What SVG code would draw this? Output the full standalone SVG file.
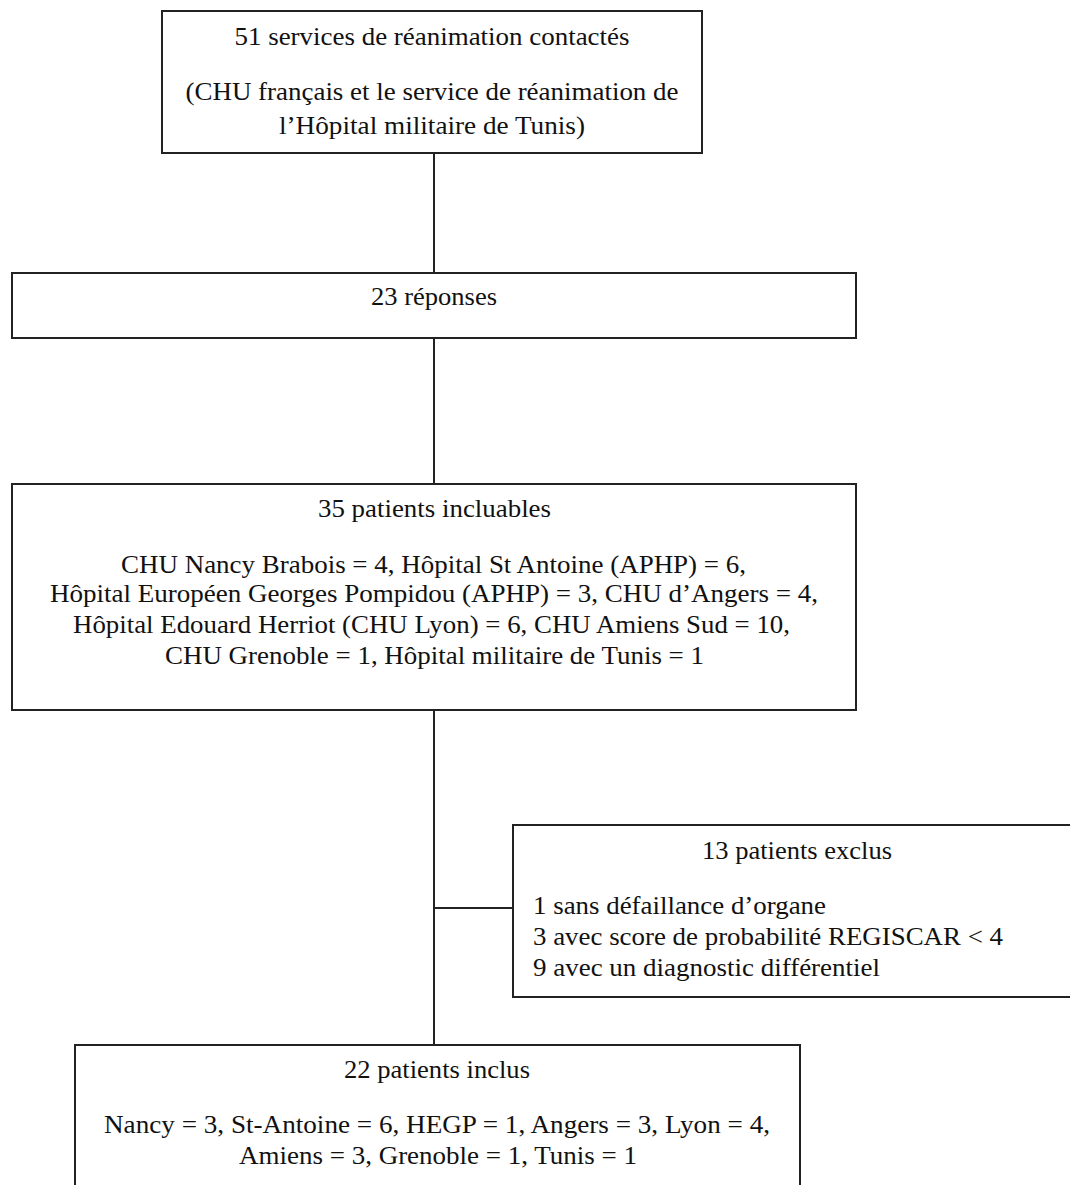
<svg xmlns="http://www.w3.org/2000/svg" width="1070" height="1185" viewBox="0 0 1070 1185">
<style>
.box{fill:#fff;stroke:#222;stroke-width:2}
.ln{stroke:#222;stroke-width:2;fill:none}
text{font-family:"Liberation Serif","Times New Roman",serif;font-size:26px;fill:#111}
.c{text-anchor:middle}
</style>
<rect width="1070" height="1185" fill="#fff"/>
<g id="connectors">
<line class="ln" x1="434" y1="153" x2="434" y2="273"/>
<line class="ln" x1="434" y1="338" x2="434" y2="484"/>
<line class="ln" x1="434" y1="710" x2="434" y2="1045"/>
<line class="ln" x1="434" y1="908" x2="513" y2="908"/>
</g>
<g id="n1">
<rect class="box" x="162" y="11" width="540" height="142"/>
<text class="c" x="432" y="45" textLength="395" lengthAdjust="spacingAndGlyphs">51 services de réanimation contactés</text>
<text class="c" x="432" y="100" textLength="493" lengthAdjust="spacingAndGlyphs">(CHU français et le service de réanimation de</text>
<text class="c" x="432" y="134" textLength="306" lengthAdjust="spacingAndGlyphs">l’Hôpital militaire de Tunis)</text>
</g>
<g id="n2">
<rect class="box" x="12" y="273" width="844" height="65"/>
<text class="c" x="434" y="305" textLength="126" lengthAdjust="spacingAndGlyphs">23 réponses</text>
</g>
<g id="n3">
<rect class="box" x="12" y="484" width="844" height="226"/>
<text class="c" x="434.5" y="517" textLength="233" lengthAdjust="spacingAndGlyphs">35 patients incluables</text>
<text class="c" x="433.5" y="573" textLength="625" lengthAdjust="spacingAndGlyphs">CHU Nancy Brabois = 4, Hôpital St Antoine (APHP) = 6,</text>
<text class="c" x="434" y="602" textLength="768" lengthAdjust="spacingAndGlyphs">Hôpital Européen Georges Pompidou (APHP) = 3, CHU d’Angers = 4,</text>
<text class="c" x="431.5" y="633" textLength="717" lengthAdjust="spacingAndGlyphs">Hôpital Edouard Herriot (CHU Lyon) = 6, CHU Amiens Sud = 10,</text>
<text class="c" x="434.5" y="664" textLength="539" lengthAdjust="spacingAndGlyphs">CHU Grenoble = 1, Hôpital militaire de Tunis = 1</text>
</g>
<g id="n4">
<rect class="box" x="513" y="825" width="570" height="172"/>
<text class="c" x="797" y="859" textLength="190" lengthAdjust="spacingAndGlyphs">13 patients exclus</text>
<text x="533" y="914" textLength="293" lengthAdjust="spacingAndGlyphs">1 sans défaillance d’organe</text>
<text x="533" y="945" textLength="470" lengthAdjust="spacingAndGlyphs">3 avec score de probabilité REGISCAR &lt; 4</text>
<text x="533" y="976" textLength="347" lengthAdjust="spacingAndGlyphs">9 avec un diagnostic différentiel</text>
</g>
<g id="n5">
<rect class="box" x="75" y="1045" width="725" height="160"/>
<text class="c" x="437" y="1078" textLength="186" lengthAdjust="spacingAndGlyphs">22 patients inclus</text>
<text class="c" x="437" y="1133" textLength="666" lengthAdjust="spacingAndGlyphs">Nancy = 3, St-Antoine = 6, HEGP = 1, Angers = 3, Lyon = 4,</text>
<text class="c" x="438" y="1164" textLength="398" lengthAdjust="spacingAndGlyphs">Amiens = 3, Grenoble = 1, Tunis = 1</text>
</g>
</svg>
